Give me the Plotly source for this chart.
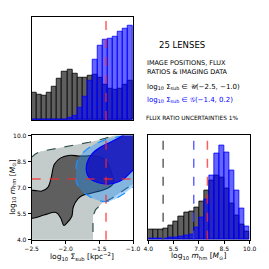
import numpy as np
import plotly.graph_objects as go

# ---------------- data ----------------
sigma_range = [-2.5, -1.0]
mhm_range = [4.0, 10.0]
n_bins = 20

# top panel: histogram of log10 Sigma_sub (relative frequency)
sigma_hist_prior = [26.4, 24.2, 23.3, 26.4, 32.1, 40.0, 47.2, 48.7, 44.7, 40.5,
                    40.5, 43.0, 44.0, 40.5, 34.3, 30.0, 29.0, 30.5, 34.3, 38.4]
sigma_hist_gauss = [0.0, 0.0, 0.0, 0.0, 0.0, 0.0, 0.6, 1.8, 4.5, 11.5,
                    22.6, 38.4, 58.8, 72.3, 77.7, 78.3, 81.0, 85.0, 88.7, 91.0]

# right panel: histogram of log10 m_hm
mhm_hist_prior = [9.4, 9.4, 10.0, 11.0, 13.2, 17.9, 22.3, 26.4, 27.4, 31.1,
                  36.5, 46.9, 57.2, 62.0, 59.4, 48.7, 35.2, 23.3, 14.2, 7.9]
mhm_hist_gauss = [1.6, 1.6, 1.6, 1.6, 2.2, 2.2, 2.8, 3.8, 4.7, 11.6,
                  21.7, 38.4, 62.0, 82.4, 90.2, 83.3, 66.7, 47.2, 29.6, 12.6]

# joint posterior contours (log10 Sigma_sub, log10 m_hm)
prior95_sigma = [-2.6, -2.6, -2.5, -2.45, -2.374, -2.117, -1.883, -1.649, -1.416, -1.25,
                 -1.2, -0.9, -0.9, -1.0, -1.18, -1.32, -1.462, -1.556, -1.593, -1.593, -1.593]
prior95_mhm = [3.9, 8.75, 8.75, 8.92, 9.08, 9.27, 9.42, 9.61, 9.83, 10.0,
               10.1, 10.1, 7.0, 7.21, 6.75, 6.37, 6.09, 5.72, 5.34, 4.04, 3.9]

prior68_sigma = [-2.6, -2.467, -2.35, -2.257, -2.21, -2.164, -2.07, -1.93, -1.81, -1.70,
                 -1.6, -1.45, -1.35, -1.3, -1.28, -1.35, -1.45, -1.55, -1.649, -1.743,
                 -1.813, -1.883, -1.907, -1.977, -2.023, -2.07, -2.14, -2.304, -2.467, -2.6]
prior68_mhm = [6.84, 6.84, 6.80, 7.03, 7.59, 8.34, 8.71, 8.86, 8.82, 8.82,
               8.85, 8.7, 8.2, 7.6, 7.3, 7.02, 6.85, 6.75, 6.65, 6.56,
               6.37, 5.90, 5.34, 4.97, 4.82, 5.25, 5.57, 5.44, 5.25, 5.25]

gauss95_sigma = [-1.15, -1.17, -1.416, -1.603, -1.743, -1.827, -1.845, -1.837, -1.767, -1.673,
                 -1.556, -1.416, -1.299, -1.136, -1.0, -0.9, -0.9]
gauss95_mhm = [10.1, 10.0, 9.75, 9.42, 9.0, 8.52, 7.96, 7.31, 6.84, 6.56,
               6.32, 6.19, 6.28, 6.65, 7.03, 7.2, 10.1]

gauss68_sigma = [-1.12, -1.15, -1.3, -1.48, -1.61, -1.68, -1.69, -1.655, -1.58, -1.44,
                 -1.28, -1.14, -1.0, -0.9, -0.9]
gauss68_mhm = [10.1, 10.0, 9.68, 9.33, 8.93, 8.43, 7.95, 7.6, 7.38, 7.22,
               7.25, 7.5, 8.0, 8.2, 10.1]

true_sigma = -1.4
true_mhm = 7.5
prior_mhm_median = 4.88
gauss_mhm_median = 6.69

x_ticks_sigma = [-2.5, -2.0, -1.5, -1.0]
ticks_mhm = [4.0, 5.5, 7.0, 8.5, 10.0]

# ---------------- figure ----------------
W = H = 269
def px(v):
    return v / W
def py(v):
    return 1 - v / H

sig_edges = np.linspace(sigma_range[0], sigma_range[1], n_bins + 1)
sig_centers = 0.5 * (sig_edges[:-1] + sig_edges[1:])
sig_w = sig_edges[1] - sig_edges[0]
m_edges = np.linspace(mhm_range[0], mhm_range[1], n_bins + 1)
m_centers = 0.5 * (m_edges[:-1] + m_edges[1:])
m_w = m_edges[1] - m_edges[0]

GRAY = '#5f5f5f'
BLUE_A = 'rgba(0,0,255,0.6)'
RED = 'rgba(255,40,40,0.75)'

fig = go.Figure()

# top histogram
fig.add_trace(go.Bar(x=sig_centers, y=sigma_hist_prior, width=sig_w, xaxis='x', yaxis='y',
                     marker=dict(color=GRAY, line=dict(color='black', width=0.8))))
fig.add_trace(go.Bar(x=sig_centers, y=sigma_hist_gauss, width=sig_w, xaxis='x', yaxis='y',
                     marker=dict(color=BLUE_A, line=dict(color='blue', width=0.8))))

# right histogram
fig.add_trace(go.Bar(x=m_centers, y=mhm_hist_prior, width=m_w, xaxis='x3', yaxis='y3',
                     marker=dict(color=GRAY, line=dict(color='black', width=0.8))))
fig.add_trace(go.Bar(x=m_centers, y=mhm_hist_gauss, width=m_w, xaxis='x3', yaxis='y3',
                     marker=dict(color=BLUE_A, line=dict(color='blue', width=0.8))))

# joint contours
fig.add_trace(go.Scatter(x=prior95_sigma, y=prior95_mhm, xaxis='x2', yaxis='y2', mode='lines',
                         fill='toself', fillcolor='#c3cbcb',
                         line=dict(color='#2f4f4f', width=1.2, dash='dash')))
fig.add_trace(go.Scatter(x=prior68_sigma, y=prior68_mhm, xaxis='x2', yaxis='y2', mode='lines',
                         fill='toself', fillcolor=GRAY,
                         line=dict(color='black', width=1.1), line_shape='spline'))
fig.add_trace(go.Scatter(x=gauss95_sigma, y=gauss95_mhm, xaxis='x2', yaxis='y2', mode='lines',
                         fill='toself', fillcolor='rgba(30,144,255,0.38)',
                         line=dict(color='#1e90ff', width=1.2, dash='dash'), line_shape='spline'))
fig.add_trace(go.Scatter(x=gauss68_sigma, y=gauss68_mhm, xaxis='x2', yaxis='y2', mode='lines',
                         fill='toself', fillcolor='rgba(22,22,190,0.9)',
                         line=dict(color='blue', width=1.2), line_shape='spline'))

shapes = []
def vline(x, xref, yref, color):
    shapes.append(dict(type='line', x0=x, x1=x, y0=0, y1=1, xref=xref, yref=yref + ' domain',
                       line=dict(color=color, width=1.5, dash='dash')))
vline(true_sigma, 'x', 'y', RED)
vline(true_sigma, 'x2', 'y2', RED)
shapes.append(dict(type='line', x0=0, x1=1, y0=true_mhm, y1=true_mhm, xref='x2 domain', yref='y2',
                   line=dict(color=RED, width=1.5, dash='dash')))
vline(prior_mhm_median, 'x3', 'y3', 'rgba(80,80,80,0.9)')
vline(gauss_mhm_median, 'x3', 'y3', 'rgba(60,60,255,0.8)')
vline(true_mhm, 'x3', 'y3', RED)

tickfont = dict(family='DejaVu Sans', size=6, color='black')
frame = dict(showline=True, mirror=True, linecolor='black', linewidth=1, showgrid=False,
             zeroline=False)

fig.update_layout(
    width=W, height=H, autosize=False,
    margin=dict(l=0, r=0, t=0, b=0),
    paper_bgcolor='white', plot_bgcolor='white',
    showlegend=False, barmode='overlay', bargap=0,
    shapes=shapes,
    xaxis=dict(domain=[px(26), px(133)], range=sigma_range, showticklabels=False, ticks='',
               anchor='y', **frame),
    yaxis=dict(domain=[py(119), py(13)], range=[0, 100], showticklabels=False, ticks='',
               anchor='x', **frame),
    xaxis2=dict(domain=[px(26), px(133)], range=sigma_range, tickvals=x_ticks_sigma,
                tickformat='.1f', ticks='outside', ticklen=3, tickcolor='black',
                tickfont=tickfont, anchor='y2', **frame),
    yaxis2=dict(domain=[py(242), py(135)], range=mhm_range, tickvals=ticks_mhm,
                tickformat='.1f', ticks='outside', ticklen=3, tickcolor='black',
                tickfont=tickfont, anchor='x2', **frame),
    xaxis3=dict(domain=[px(149), px(256)], range=mhm_range, tickvals=ticks_mhm,
                tickformat='.1f', ticks='outside', ticklen=3, tickcolor='black',
                tickfont=tickfont, anchor='y3', **frame),
    yaxis3=dict(domain=[py(242), py(135)], range=[0, 100], showticklabels=False, ticks='',
                anchor='x3', **frame),
)

ann = []
def text(x, y, s, size, color='black', xanchor='left', angle=0):
    ann.append(dict(x=px(x), y=py(y), xref='paper', yref='paper', text=s, showarrow=False,
                    xanchor=xanchor, yanchor='middle', textangle=angle,
                    font=dict(family='DejaVu Sans', size=size, color=color)))

text(185, 42, '25 LENSES', 8.5, xanchor='center')
text(146, 61, 'IMAGE POSITIONS, FLUX', 6.5)
text(146, 70, 'RATIOS &amp; IMAGING DATA', 6.5)
text(146, 85, 'log<sub>10</sub> Σ<sub>sub</sub> ∈ 𝒰(−2.5, −1.0)', 7)
text(146, 99, 'log<sub>10</sub> Σ<sub>sub</sub> ∈ 𝒢(−1.4, 0.2)', 7, color='blue')
text(144, 117, 'FLUX RATIO UNCERTAINTIES 1%', 5.8)
text(79, 259, 'log<sub>10</sub> Σ<sub>sub</sub> [kpc<sup>−2</sup>]', 7.5, xanchor='center')
text(202, 259, 'log<sub>10</sub> <i>m</i><sub>hm</sub> [<i>M</i><sub>⊙</sub>]', 7.5, xanchor='center')
text(6, 188, 'log<sub>10</sub> <i>m</i><sub>hm</sub> [<i>M</i><sub>⊙</sub>]', 7.5, xanchor='center', angle=-90)
fig.update_layout(annotations=ann)

fig.write_html('out.html', config={'displayModeBar': False},
               post_script="document.body.style.margin='0';document.body.style.padding='0';")
